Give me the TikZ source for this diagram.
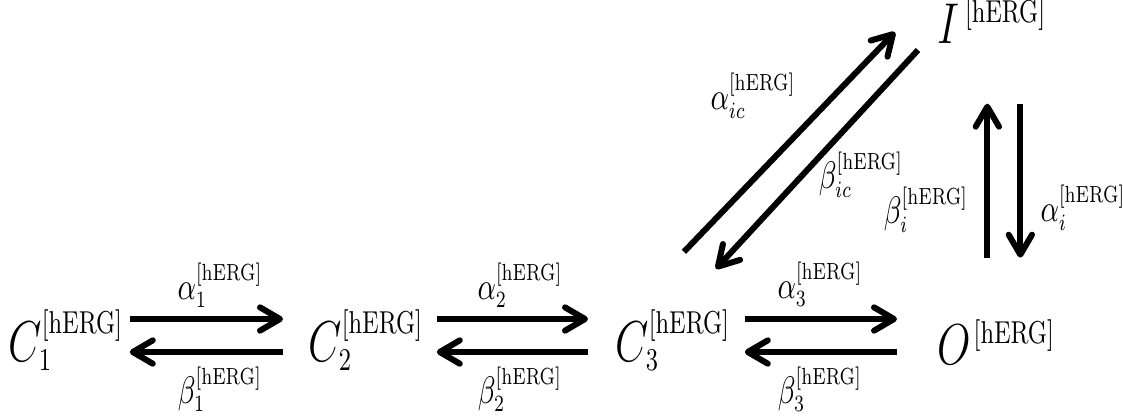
\RequirePackage{fix-cm}
\documentclass[tikz,border=0pt]{standalone}
\usepackage{amsmath}
\usepackage{tikz}
\usetikzlibrary{arrows.meta}
\DeclareMathSizes{17.28}{17.28}{9.5}{7}
\DeclareMathSizes{10}{11.5}{7}{5}
\newcommand{\herg}{[\mathrm{hERG}]}

\begin{document}
\begin{tikzpicture}[x=0.3pt,y=0.3pt,
  state/.style={anchor=base west, inner sep=0pt, xscale=0.75, font=\LARGE},
  rate/.style={inner sep=0pt, xscale=0.75},
  rxn/.style={line width=1.8pt, -{Straight Barb[length=6pt,width=7pt,round]}}]
\useasboundingbox (0,0) rectangle (1123,415);
% states
\node[state] (c1) at (8,54) {$C_1^{\herg}$};
\node[state] (c2) at (308,54) {$C_2^{\herg}$};
\node[state] (c3) at (615,54) {$C_3^{\herg}$};
\node[state] (o) at (937,51) {$O^{\mkern2mu\herg}$};
\node[state] (i) at (937,372) {$I^{\mkern4mu\herg}$};
% C1 <-> C2
\draw[rxn] ([shift={(6,42)}]c1.base east) -- ([shift={(-25,42)}]c2.base west);
\draw[rxn] ([shift={(-25,9)}]c2.base west) -- ([shift={(6,9)}]c1.base east);
\node[rate] (a1) at (220,130) {$\alpha_1^{\herg}$};
\node[rate, anchor=south] (b1) at (220,3) {$\beta_1^{\herg}$};
% C2 <-> C3
\draw[rxn] ([shift={(13,42)}]c2.base east) -- ([shift={(-27,42)}]c3.base west);
\draw[rxn] ([shift={(-27,9)}]c3.base west) -- ([shift={(13,9)}]c2.base east);
\node[rate] (a2) at (520,130) {$\alpha_2^{\herg}$};
\node[rate, anchor=south] (b2) at (520,3) {$\beta_2^{\herg}$};
% C3 <-> O
\draw[rxn] ([shift={(14,42)}]c3.base east) -- ([shift={(-40,45)}]o.base west);
\draw[rxn] ([shift={(-40,12)}]o.base west) -- ([shift={(14,9)}]c3.base east);
\node[rate] (a3) at (820,131) {$\alpha_3^{\herg}$};
\node[rate, anchor=south] (b3) at (820,3) {$\beta_3^{\herg}$};
% C3 <-> I
\draw[rxn] ([shift={(11,57)}]c3.north) -- ([shift={(-42,11)}]i.base west);
\draw[rxn] ([shift={(-19,-7)}]i.base west) -- ([shift={(43,40)}]c3.north);
\node[rate] (aic) at (753,319) {$\alpha_{ic}^{\herg}$};
\node[rate] (bic) at (861,240) {$\beta_{ic}^{\herg}$};
% O <-> I
\draw[rxn] ([shift={(-9,61)}]o.north) -- ([shift={(-9,-60)}]o.north |- i.south);
\draw[rxn] ([shift={(24,-60)}]o.north |- i.south) -- ([shift={(24,61)}]o.north);
\node[rate] (bi) at (926,205) {$\beta_i^{\herg}$};
\node[rate, anchor=west] (ai) at (1040,207) {$\alpha_i^{\herg}$};
\end{tikzpicture}
\end{document}
